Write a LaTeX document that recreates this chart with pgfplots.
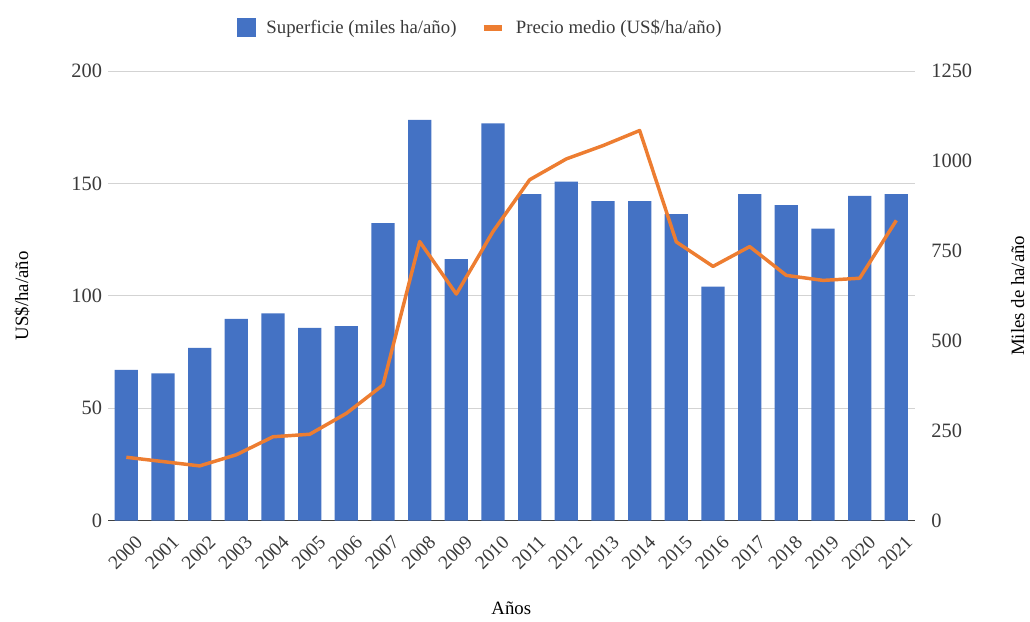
\documentclass[border=0pt]{standalone}
\usepackage{fontspec}
\setmainfont{Liberation Serif}
\usepackage{pgfplots}
\pgfplotsset{compat=1.18}

\definecolor{barblue}{HTML}{4472C4}
\definecolor{lineorange}{HTML}{ED7D31}
\definecolor{gridgray}{HTML}{D3D3D3}
\definecolor{axisgray}{HTML}{404040}
\definecolor{textgray}{HTML}{3A3A3A}

\pgfplotsset{
  base/.style={
    width=605pt, height=337pt, scale only axis,
    xmin=-0.5, xmax=21.5,
    /pgf/number format/assume math mode=true,
    /pgf/number format/1000 sep={},
    tick label style={text=textgray, font=\fontsize{15.3}{18}\selectfont},
    label style={text=textgray, font=\fontsize{15}{18}\selectfont},
    major tick length=0pt,
  }
}

\begin{document}
\begin{tikzpicture}[font=\fontsize{14.1}{17}\selectfont]
\begin{axis}[base,
  axis x line*=bottom, axis y line*=left,
  y axis line style={draw=none},
  x axis line style={axisgray, line width=1.1pt},
  ymin=0, ymax=200, ytick={0,50,100,150,200},
  ymajorgrids, grid style={gridgray, line width=0.8pt},
  xtick={0,...,21},
  xticklabels={2000,2001,2002,2003,2004,2005,2006,2007,2008,2009,2010,2011,2012,2013,2014,2015,2016,2017,2018,2019,2020,2021},
  x tick label style={font=\fontsize{14.5}{17}\selectfont, xshift=6pt, yshift=-10pt, rotate=45, anchor=north east, inner sep=0pt},
  yticklabel style={xshift=-1pt},
  xlabel={Años}, ylabel={US\$/ha/año},
  every axis x label/.style={at={(axis description cs:0.5,-0.196)}, anchor=center},
  every axis y label/.style={at={(axis description cs:-0.1066,0.5)}, rotate=90, anchor=center},
  legend style={at={(axis description cs:0.462,1.097)}, anchor=center, draw=none, fill=none,
    legend columns=2, text=textgray, font=\fontsize{14.1}{17}\selectfont,
    /tikz/every odd column/.append style={column sep=6pt},
    /tikz/every even column/.append style={column sep=16pt}},
]
% Superficie
\addplot[ybar, bar width=0.635, fill=barblue, draw=none,
  legend image code/.code={\fill[barblue] (0pt,-7pt) rectangle (14pt,7pt);}]
coordinates {
  (0,67.1) (1,65.5) (2,76.9) (3,89.8) (4,92.2) (5,85.8) (6,86.5) (7,132.4)
  (8,178.3) (9,116.3) (10,176.8) (11,145.3) (12,150.9) (13,142.2) (14,142.2)
  (15,136.4) (16,104.1) (17,145.3) (18,140.4) (19,129.9) (20,144.5) (21,145.3)
};
\addlegendentry{Superficie (miles ha/año)}
\addlegendimage{legend image code/.code={\draw[lineorange, line width=4.5pt] (0pt,0pt) -- (14pt,0pt);}}
\addlegendentry{Precio medio (US\$/ha/año)}
\coordinate (sw) at (rel axis cs:0,0);
\end{axis}

\begin{axis}[base,
  axis y line*=right, axis x line=none,
  y axis line style={draw=none},
  ymin=0, ymax=1250, ytick={0,250,500,750,1000,1250},
  yticklabel style={xshift=9pt},
  ylabel={Miles de ha/año},
  every axis y label/.style={at={(axis description cs:1.1276,0.5)}, rotate=90, anchor=center},
]
% Precio medio
\addplot[lineorange, line width=2.6pt, line join=round] coordinates {
  (0,176) (1,164) (2,152) (3,183) (4,233) (5,240) (6,298) (7,377)
  (8,776) (9,630) (10,804) (11,948) (12,1006) (13,1043) (14,1085)
  (15,775) (16,707) (17,762) (18,682) (19,668) (20,674) (21,835)
};
\end{axis}

\pgfresetboundingbox
\path ([xshift=-81pt,yshift=-75.4pt]sw) rectangle ([xshift=691.5pt,yshift=390.4pt]sw);
\end{tikzpicture}
\end{document}
